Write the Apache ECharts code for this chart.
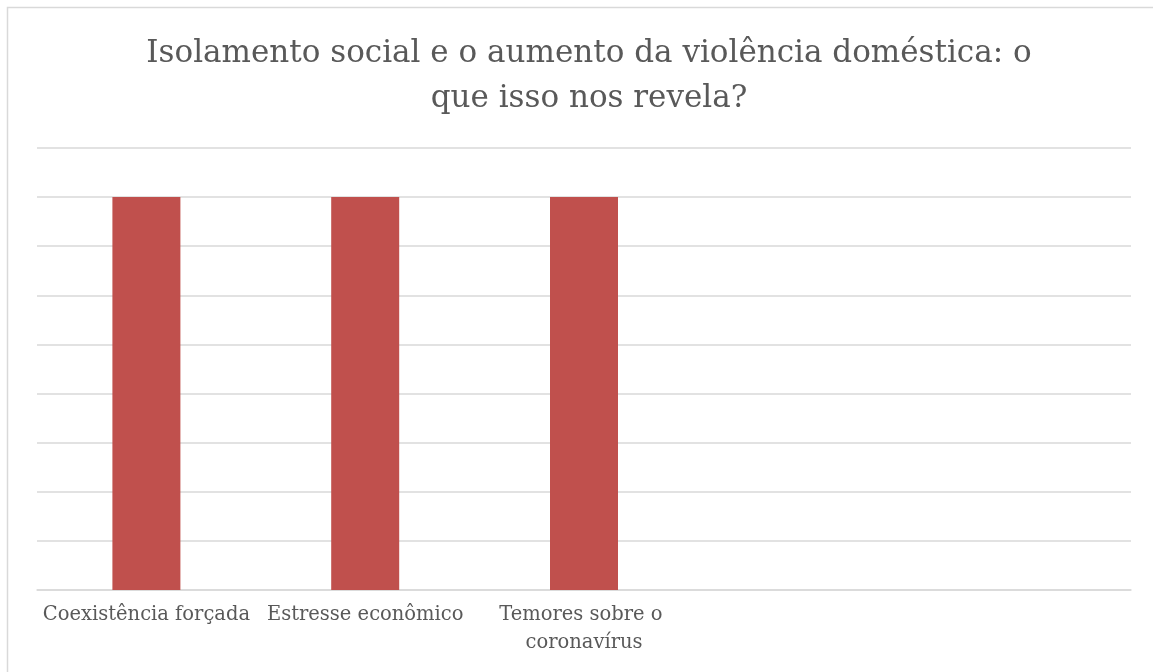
<!DOCTYPE html>
<html>
<head>
<meta charset="utf-8">
<script src="https://cdn.jsdelivr.net/npm/echarts@6/dist/echarts.min.js"></script>
<style>
  html, body { margin: 0; padding: 0; background: #fff; }
  #chart { width: 1153px; height: 672px; }
</style>
</head>
<body>
<div id="chart"></div>
<script>
var categories = ['Coexistência forçada', 'Estresse econômico', 'Temores sobre o coronavírus', ' ', '  '];
var values = [8, 8, 8, null, null];
var yMax = 9;
var yStep = 1;

(function(){
	var myChart = echarts.init(document.getElementById('chart'));
	var font = '"DejaVu Serif", serif';
	var option = {
		animation: false,
		backgroundColor: '#fff',
		title: {
			text: 'Isolamento social e o aumento da violência doméstica: o\nque isso nos revela?',
			left: 584,
			top: 26,
			textAlign: 'center',
			textStyle: {
				color: '#595959',
				fontFamily: font,
				fontWeight: 'normal',
				fontSize: 31,
				lineHeight: 45
			}
		},
		graphic: [
			{
				type: 'rect',
				shape: { x: 7.5, y: 7.5, width: 1300, height: 800 },
				style: { fill: 'none', stroke: '#d9d9d9', lineWidth: 1.5 },
				silent: true
			}
		],
		grid: {
			left: 37,
			right: 22,
			top: 148,
			bottom: 82
		},
		xAxis: {
			type: 'category',
			data: categories,
			axisLine: { show: true, lineStyle: { color: '#d9d9d9', width: 1.5 } },
			axisTick: { show: false },
			axisLabel: {
				interval: 0,
				margin: 11,
				color: '#595959',
				fontFamily: font,
				fontSize: 19.5,
				lineHeight: 28,
				width: 232,
				overflow: 'break'
			}
		},
		yAxis: {
			type: 'value',
			min: 0,
			max: yMax,
			interval: yStep,
			axisLabel: { show: false },
			axisLine: { show: false },
			axisTick: { show: false },
			splitLine: { lineStyle: { color: '#d9d9d9', width: 1.5 } }
		},
		series: [
			{
				type: 'bar',
				data: values,
				barWidth: 68,
				itemStyle: { color: '#c0504d' }
			}
		]
	};
	myChart.setOption(option);
})();
</script>
</body>
</html>
